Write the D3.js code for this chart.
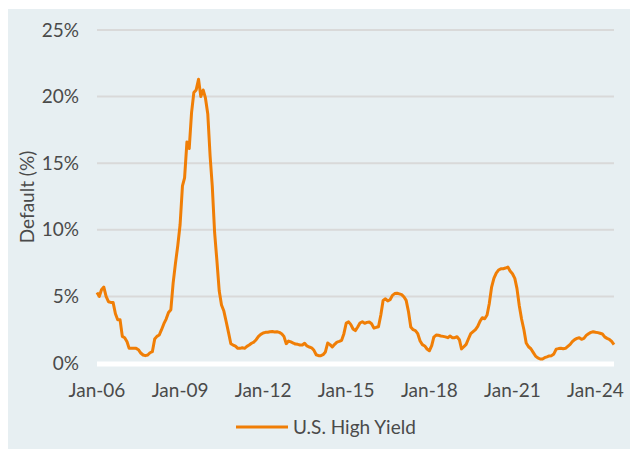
<!DOCTYPE html>
<html lang="en">
<head>
<meta charset="utf-8">
<title>U.S. High Yield default rate</title>
<script src="https://cdn.jsdelivr.net/npm/d3@7"></script>
<style>
  body { margin: 0; background: #fff; }
  text { font-family: Lato, "Open Sans", sans-serif; fill: #4a4a4a; }
</style>
</head>
<body>
<div id="chart"></div>
<script>
// monthly default rate (%), Jan 2006 .. Sep 2024
var startMonth = "2006-01";
var defaultRate = [
  5.3, 5.0, 5.5, 5.7, 5.0, 4.6, 4.55, 4.55, 3.7, 3.25, 3.25, 2.0,
  1.9, 1.6, 1.1, 1.1, 1.1, 1.1, 1.0, 0.75, 0.6, 0.55, 0.6, 0.77,
  0.85, 1.8, 2.0, 2.1, 2.5, 2.95, 3.3, 3.8, 4.0, 6.0, 7.5, 8.8,
  10.4, 13.3, 13.9, 16.6, 16.1, 18.8, 20.3, 20.5, 21.3, 20.0, 20.5, 19.9,
  18.7, 15.5, 13.3, 9.8, 7.7, 5.4, 4.35, 3.9, 3.1, 2.3, 1.45, 1.35,
  1.27, 1.1, 1.1, 1.15, 1.1, 1.25, 1.35, 1.48, 1.57, 1.75, 2.0, 2.15,
  2.25, 2.3, 2.31, 2.35, 2.37, 2.33, 2.35, 2.3, 2.2, 2.0, 1.45, 1.65,
  1.58, 1.5, 1.42, 1.4, 1.35, 1.35, 1.48, 1.28, 1.2, 1.14, 0.95, 0.62,
  0.55, 0.55, 0.62, 0.83, 1.5, 1.38, 1.2, 1.4, 1.57, 1.62, 1.7, 2.2,
  3.0, 3.09, 2.9, 2.55, 2.43, 2.7, 3.0, 3.1, 2.98, 3.05, 3.08, 2.95,
  2.62, 2.68, 2.72, 3.6, 4.7, 4.82, 4.66, 4.75, 5.08, 5.21, 5.24, 5.19,
  5.13, 4.95, 4.7, 3.85, 2.7, 2.5, 2.43, 2.2, 1.65, 1.38, 1.28, 1.05,
  0.92, 1.3, 1.95, 2.1, 2.08, 2.03, 2.0, 1.96, 1.9, 2.02, 1.9, 1.9,
  1.97, 1.75, 1.06, 1.22, 1.4, 1.82, 2.2, 2.35, 2.5, 2.75, 3.15, 3.4,
  3.32, 3.6, 4.45, 5.7, 6.35, 6.75, 6.98, 7.07, 7.08, 7.13, 7.2, 6.9,
  6.7, 6.35, 5.6, 4.3, 3.3, 2.5, 1.5, 1.22, 1.07, 0.8, 0.52, 0.38,
  0.3, 0.3, 0.4, 0.46, 0.53, 0.55, 0.68, 1.04, 1.08, 1.1, 1.07, 1.1,
  1.25, 1.4, 1.6, 1.76, 1.85, 1.9, 1.78, 1.85, 2.07, 2.2, 2.3, 2.35,
  2.31, 2.28, 2.23, 2.18, 1.96, 1.85, 1.78, 1.62, 1.38
];
var yTicks = [0, 5, 10, 15, 20, 25];
var xTickLabels = ["Jan-06", "Jan-09", "Jan-12", "Jan-15", "Jan-18", "Jan-21", "Jan-24"];
var seriesName = "U.S. High Yield";

var width = 630, height = 449;
var margin = {left: 97, right: 16, top: 30, bottom: 86};
var fontSize = "19px";

var svg = d3.select("#chart").append("svg")
    .attr("width", width)
    .attr("height", height);

svg.append("rect")
    .attr("x", 8).attr("y", 9)
    .attr("width", width - 8).attr("height", height - 9)
    .attr("fill", "#e7eff2");

var parse = d3.timeParse("%Y-%m");
var t0 = parse(startMonth);
var data = defaultRate.map(function(v, i) {
  return {date: d3.timeMonth.offset(t0, i), value: v};
});

var x = d3.scaleTime()
    .domain(d3.extent(data, function(d) { return d.date; }))
    .range([margin.left, width - margin.right]);

var y = d3.scaleLinear()
    .domain([0, 25])
    .range([height - margin.bottom, margin.top]);

// gridlines
svg.append("g")
  .selectAll("line")
    .data(yTicks.filter(function(d) { return d > 0; }))
  .enter().append("line")
    .attr("x1", x.range()[0]).attr("x2", x.range()[1])
    .attr("y1", function(d) { return y(d); })
    .attr("y2", function(d) { return y(d); })
    .attr("stroke", "#d9d9d9")
    .attr("stroke-width", 2);

// zero line
svg.append("line")
    .attr("x1", x.range()[0]).attr("x2", x.range()[1])
    .attr("y1", y(0) + 1).attr("y2", y(0) + 1)
    .attr("stroke", "#ffffff")
    .attr("stroke-width", 5);

// y axis labels
svg.append("g")
  .selectAll("text")
    .data(yTicks)
  .enter().append("text")
    .attr("x", 79)
    .attr("y", function(d) { return y(d); })
    .attr("dy", "0.35em")
    .attr("text-anchor", "end")
    .style("font-size", fontSize)
    .text(function(d) { return d + "%"; });

// x axis labels
var xTicks = xTickLabels.map(function(s) { return d3.timeParse("%b-%y")(s); });
svg.append("g")
  .selectAll("text")
    .data(xTicks)
  .enter().append("text")
    .attr("x", function(d) { return x(d); })
    .attr("y", 390)
    .attr("dy", "0.35em")
    .attr("text-anchor", "middle")
    .style("font-size", fontSize)
    .text(function(d, i) { return xTickLabels[i]; });

// y title
svg.append("text")
    .attr("transform", "translate(27," + 197 + ") rotate(-90)")
    .attr("text-anchor", "middle")
    .attr("dy", "0.35em")
    .style("font-size", fontSize)
    .text("Default (%)");

var line = d3.line()
    .x(function(d) { return x(d.date); })
    .y(function(d) { return y(d.value); });

svg.append("path")
    .datum(data)
    .attr("fill", "none")
    .attr("stroke", "#f07e06")
    .attr("stroke-width", 3)
    .attr("stroke-linejoin", "round")
    .attr("d", line);

// legend
var legend = svg.append("g").attr("transform", "translate(236,427)");
legend.append("line")
    .attr("x1", 0).attr("x2", 52)
    .attr("stroke", "#f07e06")
    .attr("stroke-width", 3);
legend.append("text")
    .attr("x", 57)
    .attr("dy", "0.35em")
    .style("font-size", fontSize)
    .text(seriesName);
</script>
</body>
</html>
